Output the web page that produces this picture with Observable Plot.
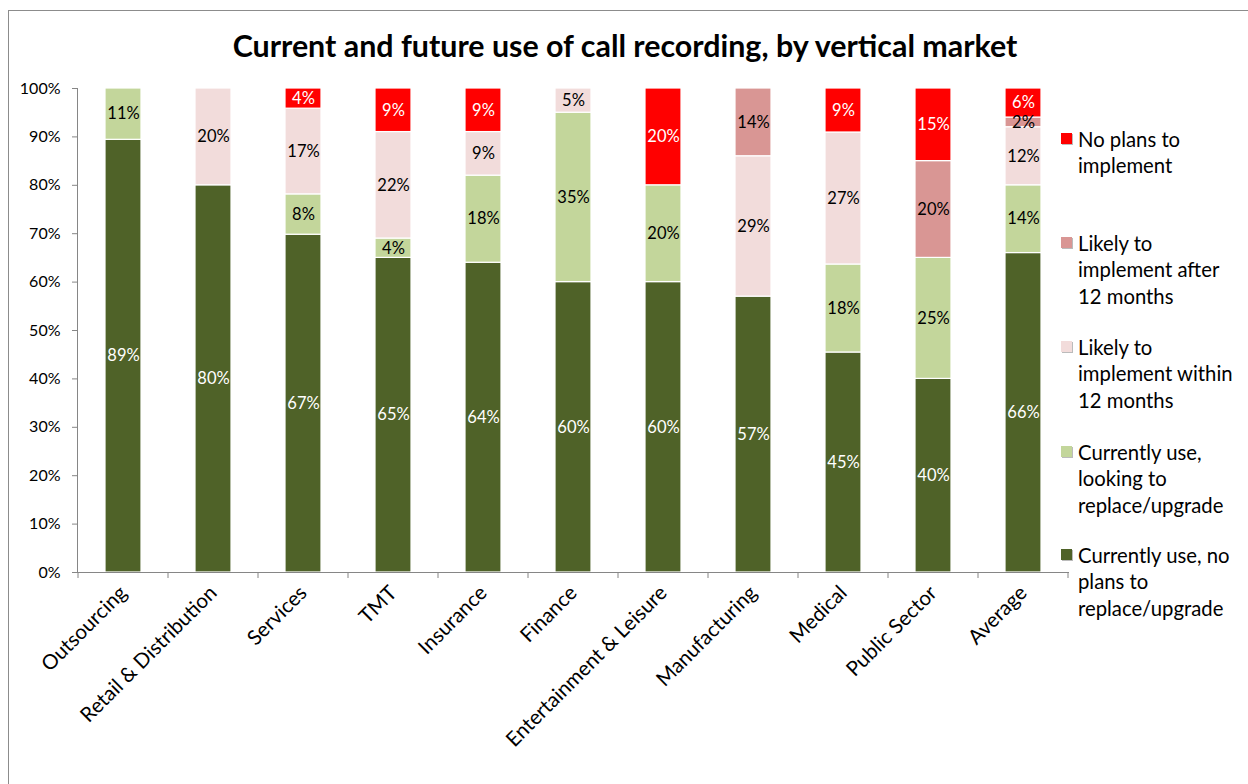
<!DOCTYPE html>
<html>
<head>
<meta charset="utf-8">
<script src="https://cdn.jsdelivr.net/npm/d3@7"></script>
<script src="https://cdn.jsdelivr.net/npm/@observablehq/plot@0.6"></script>
<style>
  body { margin: 0; background: #fff; font-family: Lato, "Open Sans", sans-serif; }
  #wrap { position: relative; width: 1248px; height: 784px; overflow: hidden; background: #fff; }
  #chart { position: absolute; left: 0; top: 0; }
  #frame { position: absolute; left: 8px; top: 10px; width: 1400px; height: 900px; border: 1.5px solid #8c8c8c; pointer-events: none; }
  #title { position: absolute; left: 0; top: 25px; width: 1250px; text-align: center; font-size: 30.4px; line-height: 40px; font-weight: 700; color: #000; }
  .leg { position: absolute; left: 1061px; font-size: 20.3px; line-height: 26.5px; color: #000; }
  .leg .sw { position: absolute; left: 0; top: 7px; width: 11px; height: 11px; box-shadow: 1px 1px 0 #bbb; }
  .leg .tx { position: absolute; left: 17px; top: 0; white-space: nowrap; }
</style>
</head>
<body>
<div id="wrap">
  <div id="chart"></div>
  <div id="title"></div>
  <div id="legend"></div>
  <div id="frame"></div>
</div>
<script>
const titleText = "Current and future use of call recording, by vertical market";
const categories = ["Outsourcing", "Retail & Distribution", "Services", "TMT", "Insurance", "Finance",
  "Entertainment & Leisure", "Manufacturing", "Medical", "Public Sector", "Average"];
const seriesNames = [
  "Currently use, no plans to replace/upgrade",
  "Currently use, looking to replace/upgrade",
  "Likely to implement within 12 months",
  "Likely to implement after 12 months",
  "No plans to implement"
];
// values per category (same order as categories)
const currentNoPlans = [89.4, 80, 67, 65, 64, 60, 60, 57, 45, 40, 66];
const currentReplace = [10.6, 0, 8, 4, 18, 35, 20, 0, 18, 25, 14];
const within12 = [0, 20, 17, 22, 9, 5, 0, 29, 27, 0, 12];
const after12 = [0, 0, 0, 0, 0, 0, 0, 14, 0, 20, 2];
const noPlans = [0, 0, 4, 9, 9, 0, 20, 0, 9, 15, 6];
const seriesValues = [currentNoPlans, currentReplace, within12, after12, noPlans];
const colors = ["#4F6228", "#C3D69B", "#F2DCDB", "#D99694", "#FF0000"];
const labelColors = ["#ffffff", "#000000", "#000000", "#000000", "#ffffff"];
const yTicks = [0, 0.1, 0.2, 0.3, 0.4, 0.5, 0.6, 0.7, 0.8, 0.9, 1];
const legendLines = [
  ["Currently use, no", "plans to", "replace/upgrade"],
  ["Currently use,", "looking to", "replace/upgrade"],
  ["Likely to", "implement within", "12 months"],
  ["Likely to", "implement after", "12 months"],
  ["No plans to", "implement"]
];

const data = [];
categories.forEach((c, i) => {
  seriesValues.forEach((arr, s) => {
    if (arr[i] > 0) data.push({category: c, series: seriesNames[s], s, value: arr[i]});
  });
});

const axisGray = "#868686";

function boundaryTicks(index, scales, values, dimensions) {
  const x = scales.x;
  const info = scales.scales && scales.scales.x;
  const step = typeof x.step === "function" ? x.step() : info.step;
  const bw = typeof x.bandwidth === "function" ? x.bandwidth() : info.bandwidth;
  const gap = (step - bw) / 2;
  const xs = categories.map(c => x(c) - gap);
  xs.push(x(categories[categories.length - 1]) + bw + gap);
  const y0 = dimensions.height - dimensions.marginBottom;
  const g = d3.create("svg:g");
  g.selectAll("line").data(xs).join("line")
    .attr("x1", d => d).attr("x2", d => d)
    .attr("y1", y0).attr("y2", y0 + 6)
    .attr("stroke", axisGray).attr("stroke-width", 1);
  return g.node();
}

const chart = Plot.plot({
  width: 1248,
  height: 784,
  marginLeft: 77,
  marginRight: 179,
  marginTop: 88,
  marginBottom: 212,
  style: {background: "transparent", fontFamily: "Lato, 'Open Sans', sans-serif", fontSize: "16px", color: "#000"},
  x: {domain: categories, paddingInner: 0.6, paddingOuter: 0.3},
  y: {domain: [0, 1]},
  color: {domain: seriesNames, range: colors},
  marks: [
    Plot.barY(data, Plot.stackY({
      offset: "normalize", order: seriesNames,
      x: "category", y: "value", z: "series", fill: "series",
      stroke: "#ffffff", strokeWidth: 1.2
    })),
    Plot.text(data, Plot.stackY({
      offset: "normalize", order: seriesNames,
      x: "category", y: "value", z: "series",
      text: d => Math.round(d.value) + "%",
      fill: d => labelColors[d.s],
      fontSize: 16.5
    })),
    Plot.frame({anchor: "left", stroke: axisGray}),
    Plot.ruleY([0], {stroke: axisGray}),
    boundaryTicks,
    Plot.axisY({
      ticks: yTicks, tickFormat: d => Math.round(d * 100) + "%",
      tickSize: 5, tickPadding: 12, stroke: axisGray, fill: "#000", label: null, fontSize: 16
    }),
    Plot.axisX({
      tickRotate: -45, tickSize: 0, tickPadding: 17, fill: "#000", label: null, fontSize: 20.5
    })
  ]
});
document.getElementById("chart").appendChild(chart);
document.getElementById("title").textContent = titleText;

// legend (top series first)
const legendCenters = [555, 452, 347, 243, 139];
const legend = document.getElementById("legend");
for (let s = seriesNames.length - 1; s >= 0; s--) {
  const item = document.createElement("div");
  item.className = "leg";
  item.style.top = (legendCenters[s] - 13.25) + "px";
  const sw = document.createElement("div");
  sw.className = "sw";
  sw.style.background = colors[s];
  const tx = document.createElement("div");
  tx.className = "tx";
  tx.innerHTML = legendLines[s].map(l => l.replace(/&/g, "&amp;")).join("<br>");
  item.appendChild(sw);
  item.appendChild(tx);
  legend.appendChild(item);
}
</script>
</body>
</html>
